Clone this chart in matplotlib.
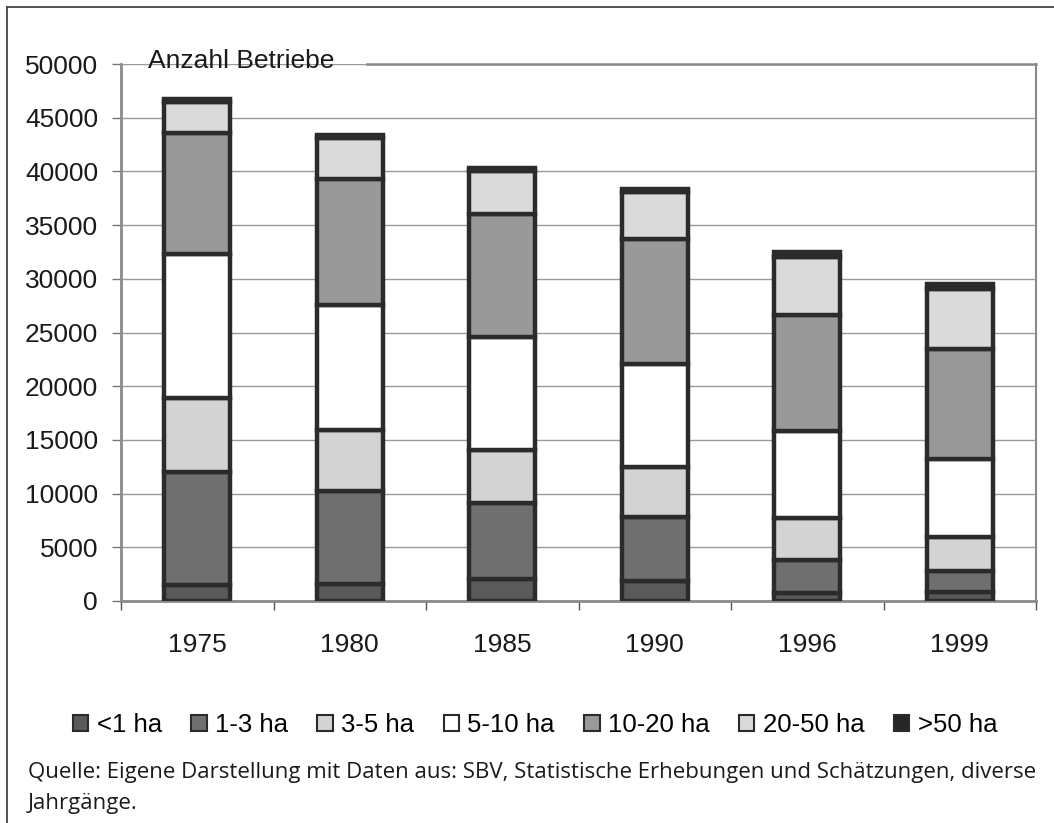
import numpy as np
import matplotlib
matplotlib.use('Agg')
import matplotlib.pyplot as plt
from matplotlib.patches import Patch
from matplotlib.lines import Line2D

years = ['1975', '1980', '1985', '1990', '1996', '1999']
classes = ['<1 ha', '1-3 ha', '3-5 ha', '5-10 ha', '10-20 ha', '20-50 ha', '>50 ha']

# Anzahl Betriebe je Groessenklasse (aus der Grafik geschaetzt)
lt1 = [1500, 1600, 2050, 1850, 700, 800]
ha1_3 = [10550, 8650, 7100, 6000, 3150, 1980]
ha3_5 = [6850, 5700, 4950, 4600, 3850, 3200]
ha5_10 = [13400, 11600, 10450, 9600, 8100, 7250]
ha10_20 = [11300, 11700, 11500, 11700, 10850, 10200]
ha20_50 = [2900, 3900, 4000, 4300, 5400, 5620]
gt50 = [200, 250, 300, 350, 400, 450]

series = [lt1, ha1_3, ha3_5, ha5_10, ha10_20, ha20_50, gt50]
colors = ['#5a5a5a', '#6f6f6f', '#d3d3d3', '#ffffff', '#999999', '#dadada', '#262626']
edge = '#2b2b2b'

plt.rcParams['font.family'] = ['Liberation Sans', 'DejaVu Sans']

fig = plt.figure(figsize=(10.54, 8.23), dpi=100)
ax = fig.add_axes([121 / 1054, 1 - 601 / 823, 915 / 1054, 537 / 823])

x = np.arange(len(years))
bottom = np.zeros(len(years))
for vals, c in zip(series, colors):
    ax.bar(x, vals, width=0.43, bottom=bottom, color=c, edgecolor=edge,
           linewidth=3.2, zorder=3)
    bottom += np.array(vals)

ax.set_ylim(0, 50000)
ax.set_xlim(-0.5, len(years) - 0.5)
ax.set_yticks(np.arange(0, 50001, 5000))
ax.set_xticks(x)
ax.set_xticklabels(years)
ax.set_xticks(np.arange(-0.5, len(years), 1), minor=True)
ax.grid(axis='y', color='#9a9a9a', linewidth=1.0, zorder=0)

ax.tick_params(axis='y', direction='out', length=6.5, width=1.0, color='#777777',
               labelsize=19, pad=10, labelcolor='#1a1a1a')
ax.tick_params(axis='x', which='major', length=0, labelsize=19, pad=23,
               labelcolor='#1a1a1a')
ax.tick_params(axis='x', which='minor', direction='out', length=6.5, width=1.0,
               color='#555555')

for side in ['left', 'bottom']:
    ax.spines[side].set_color('#8a8a8a')
    ax.spines[side].set_linewidth(2.0)
ax.spines['right'].set_color('#8a8a8a')
ax.spines['right'].set_linewidth(1.5)
ax.spines['top'].set_visible(False)
ax.add_line(Line2D([(367 - 121) / 915, 1], [1, 1], transform=ax.transAxes,
                   color='#8a8a8a', linewidth=1.8, clip_on=False))

fig.text(148 / 1054, 1 - 68 / 823, 'Anzahl Betriebe', fontsize=19,
         color='#1a1a1a', va='baseline', ha='left')

handles = [Patch(facecolor=c, edgecolor=edge, linewidth=1.5) for c in colors]
fig.legend(handles, classes, loc='center', bbox_to_anchor=(535 / 1054, 1 - 725 / 823),
           ncol=7, frameon=False, fontsize=18.5, handlelength=0.6, handleheight=0.6,
           handletextpad=0.32, columnspacing=1.15, borderpad=0, borderaxespad=0)

cap_font = ['Open Sans', 'DejaVu Sans']
fig.text(28 / 1054, 1 - 778 / 823,
         'Quelle: Eigene Darstellung mit Daten aus: SBV, Statistische Erhebungen und Schätzungen, diverse',
         fontsize=16, family=cap_font, color='#1a1a1a', va='baseline', ha='left')
fig.text(28 / 1054, 1 - 809 / 823, 'Jahrgänge.', fontsize=16, family=cap_font,
         color='#1a1a1a', va='baseline', ha='left')

# Rahmen oben und links
fig.add_artist(Line2D([7 / 1054, 1], [1 - 7 / 823, 1 - 7 / 823], transform=fig.transFigure,
                      color='#444444', linewidth=1.3))
fig.add_artist(Line2D([7 / 1054, 7 / 1054], [0, 1 - 7 / 823], transform=fig.transFigure,
                      color='#444444', linewidth=1.3))

fig.savefig('out.png', dpi=100)
